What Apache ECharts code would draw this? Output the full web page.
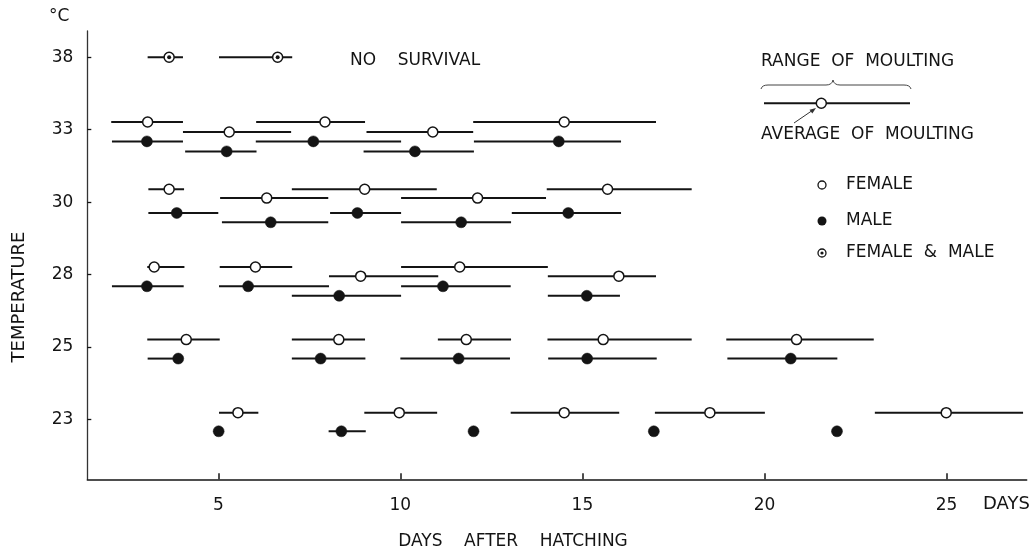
<!DOCTYPE html>
<html>
<head>
<meta charset="utf-8">
<script src="https://cdn.jsdelivr.net/npm/echarts@6/dist/echarts.min.js"></script>
<style>
html,body{margin:0;padding:0;background:#fff;}
#chart{width:1033px;height:550px;}
</style>
</head>
<body>
<div id="chart"></div>
<script>
// ---------------- DATA ----------------
// Temperature rows (bottom to top)
const temperatures = ['23', '25', '28', '30', '33', '38'];
const xTicks = [5, 10, 15, 20, 25];

// Each entry: [temperature, range start (day), average (day), range end (day)]
const female = [
  ['33', 2.06, 3.06, 4.03], ['33', 4.03, 5.30, 7.00], ['33', 6.04, 7.93, 9.03], ['33', 9.07, 10.89, 12.00], ['33', 12.00, 14.50, 17.02],
  ['30', 3.08, 3.65, 4.06], ['30', 5.05, 6.33, 8.02], ['30', 7.02, 9.02, 11.00], ['30', 10.02, 12.12, 14.00], ['30', 14.02, 15.69, 18.00],
  ['28', 3.05, 3.24, 4.07], ['28', 5.04, 6.02, 7.03], ['28', 8.04, 8.91, 11.04], ['28', 10.02, 11.63, 14.05], ['28', 14.05, 16.00, 17.02],
  ['25', 3.05, 4.12, 5.04], ['25', 7.02, 8.31, 9.03], ['25', 11.03, 11.81, 13.04], ['25', 14.04, 15.57, 18.00], ['25', 18.95, 20.88, 23.00],
  ['23', 5.02, 5.54, 6.10], ['23', 9.01, 9.97, 11.01], ['23', 13.03, 14.50, 16.01], ['23', 16.99, 18.50, 20.01], ['23', 23.03, 24.99, 27.10]
];
const male = [
  ['33', 2.08, 3.04, 4.03], ['33', 4.09, 5.23, 6.05], ['33', 6.03, 7.61, 10.02], ['33', 8.99, 10.40, 12.02], ['33', 12.02, 14.35, 16.06],
  ['30', 3.08, 3.86, 5.00], ['30', 5.10, 6.44, 8.02], ['30', 8.07, 8.82, 10.02], ['30', 10.02, 11.67, 13.04], ['30', 13.06, 14.61, 16.06],
  ['28', 2.08, 3.04, 4.05], ['28', 5.02, 5.82, 8.04], ['28', 7.02, 8.32, 10.02], ['28', 10.02, 11.17, 13.03], ['28', 14.05, 15.12, 16.03],
  ['25', 3.06, 3.90, 3.90], ['25', 7.02, 7.81, 9.04], ['25', 10.00, 11.60, 13.01], ['25', 14.06, 15.13, 17.04], ['25', 18.98, 20.72, 22.00],
  ['23', 5.01, 5.01, 5.01], ['23', 8.03, 8.38, 9.05], ['23', 12.01, 12.01, 12.01], ['23', 16.96, 16.96, 16.96], ['23', 21.99, 21.99, 21.99]
];
const femaleAndMale = [
  ['38', 3.06, 3.65, 4.03], ['38', 5.02, 6.63, 7.03]
];

// ---------------- LAYOUT (pixel offsets from the row's tick, lane staggering) ----------------
const LANE_PATTERN = { '33': [0, 1, 0, 1, 0], '30': [0, 1, 0, 1, 0], '28': [0, 0, 1, 0, 1] };
const ROW_OFFSET = {
  '38': { B: [0] },
  '33': { F: [-7.7, 2.3], M: [11.7, 21.7] },
  '30': { F: [-12.8, -4.0], M: [10.9, 20.2] },
  '28': { F: [-7.5, 1.7], M: [11.8, 21.3] },
  '25': { F: [-7.3], M: [11.7] },
  '23': { F: [-6.6], M: [12.0] }
};

function build(list, key) {
  const counters = {};
  return list.map(function (d) {
    const t = d[0];
    const i = counters[t] || 0;
    counters[t] = i + 1;
    const lanes = LANE_PATTERN[t];
    const lane = (lanes && key !== 'B') ? lanes[i] : 0;
    const offs = ROW_OFFSET[t][key];
    const off = offs[Math.min(lane, offs.length - 1)];
    return [d[1], d[2], d[3], temperatures.indexOf(t), off];
  });
}

const INK = '#141414';

function makeRender(kind) {
  return function (params, api) {
    const row = api.value(3);
    const off = api.value(4);
    const pS = api.coord([api.value(0), row]);
    const pM = api.coord([api.value(1), row]);
    const pE = api.coord([api.value(2), row]);
    const y = pS[1] + off;
    const children = [];
    if (pE[0] - pS[0] > 0.5) {
      children.push({
        type: 'line',
        shape: { x1: pS[0], y1: y, x2: pE[0], y2: y },
        style: { stroke: INK, lineWidth: 2 }
      });
    }
    if (kind === 'F') {
      children.push({ type: 'circle', shape: { cx: pM[0], cy: y, r: 5 }, style: { fill: '#fff', stroke: INK, lineWidth: 1.5 } });
    } else if (kind === 'M') {
      children.push({ type: 'circle', shape: { cx: pM[0], cy: y, r: 5.5 }, style: { fill: INK, stroke: INK, lineWidth: 0.5 } });
    } else {
      children.push({ type: 'circle', shape: { cx: pM[0], cy: y, r: 5 }, style: { fill: '#fff', stroke: INK, lineWidth: 1.5 } });
      children.push({ type: 'circle', shape: { cx: pM[0], cy: y, r: 2 }, style: { fill: INK } });
    }
    return { type: 'group', children: children };
  };
}

const FONT = 'DejaVu Sans';
function txt(x, y, text, size, align, rot) {
  const el = {
    type: 'text', x: x, y: y,
    style: { text: text, fill: INK, font: size + 'px "' + FONT + '"', textVerticalAlign: 'middle', textAlign: align || 'left' }
  };
  if (rot) el.rotation = rot;
  return el;
}
function curve(x1, y1, cx, cy, x2, y2) {
  return { type: 'bezierCurve', shape: { x1: x1, y1: y1, cpx1: cx, cpy1: cy, x2: x2, y2: y2 }, style: { fill: null, stroke: '#444', lineWidth: 1 } };
}
function seg(x1, y1, x2, y2, w, c) {
  return { type: 'line', shape: { x1: x1, y1: y1, x2: x2, y2: y2 }, style: { stroke: c || '#444', lineWidth: w || 1 } };
}

const chart = echarts.init(document.getElementById('chart'), null, { renderer: 'canvas' });
chart.setOption({
  backgroundColor: '#fff',
  animation: false,
  grid: { left: 87.3, right: 6.3, top: 31, bottom: 70.7, containLabel: false },
  xAxis: {
    type: 'value', min: 1.403, max: 27.2,
    splitLine: { show: false },
    axisLine: { show: true, onZero: false, lineStyle: { color: INK, width: 1.5 } },
    axisTick: { show: true, inside: true, length: 6, customValues: xTicks, lineStyle: { color: INK, width: 1.5 } },
    axisLabel: { customValues: xTicks, margin: 18, color: INK, fontFamily: FONT, fontSize: 17 }
  },
  yAxis: {
    type: 'value', min: -0.829, max: 5.363,
    splitLine: { show: false },
    axisLine: { show: true, onZero: false, lineStyle: { color: '#333', width: 1.3 } },
    axisTick: { show: true, inside: true, length: 4, customValues: [0, 1, 2, 3, 4, 5], lineStyle: { color: INK, width: 1.3 } },
    axisLabel: {
      customValues: [0, 1, 2, 3, 4, 5], margin: 14, color: INK, fontFamily: FONT, fontSize: 17,
      formatter: function (v) { return temperatures[Math.round(v)]; }
    }
  },
  series: [
    { type: 'custom', name: 'FEMALE', renderItem: makeRender('F'), encode: { x: [0, 1, 2], y: 3 }, data: build(female, 'F') },
    { type: 'custom', name: 'MALE', renderItem: makeRender('M'), encode: { x: [0, 1, 2], y: 3 }, data: build(male, 'M') },
    { type: 'custom', name: 'FEMALE & MALE', renderItem: makeRender('B'), encode: { x: [0, 1, 2], y: 3 }, data: build(femaleAndMale, 'B') }
  ],
  graphic: [
    txt(49, 17, '°C', 17),
    txt(350, 61, 'NO    SURVIVAL', 17),
    txt(19, 297, 'TEMPERATURE', 18, 'center', Math.PI / 2),
    txt(513, 542, 'DAYS    AFTER    HATCHING', 17, 'center'),
    txt(983, 504, 'DAYS', 18),
    // moulting key
    txt(761, 62, 'RANGE  OF  MOULTING', 17),
    curve(761, 89, 762, 85, 768, 85),
    seg(768, 85, 826, 85),
    curve(826, 85, 832, 85, 833, 80),
    curve(833, 80, 834, 85, 840, 85),
    seg(840, 85, 904, 85),
    curve(904, 85, 910, 85, 911, 89),
    seg(764, 103.3, 910, 103.3, 2, INK),
    { type: 'circle', shape: { cx: 821.3, cy: 103.3, r: 5 }, style: { fill: '#fff', stroke: INK, lineWidth: 1.5 } },
    seg(794, 123, 813, 110, 1, '#333'),
    { type: 'polygon', shape: { points: [[816, 108], [809.5, 109.8], [812.3, 113.5]] }, style: { fill: '#333' } },
    txt(761, 135, 'AVERAGE  OF  MOULTING', 17),
    // symbol key
    { type: 'circle', shape: { cx: 822, cy: 185, r: 4 }, style: { fill: '#fff', stroke: INK, lineWidth: 1.3 } },
    txt(846, 185, 'FEMALE', 17),
    { type: 'circle', shape: { cx: 822, cy: 221, r: 4.5 }, style: { fill: INK } },
    txt(846, 221, 'MALE', 17),
    { type: 'circle', shape: { cx: 822, cy: 253, r: 4 }, style: { fill: '#fff', stroke: INK, lineWidth: 1.3 } },
    { type: 'circle', shape: { cx: 822, cy: 253, r: 1.6 }, style: { fill: INK } },
    txt(846, 253, 'FEMALE  &  MALE', 17)
  ]
});
</script>
</body>
</html>
